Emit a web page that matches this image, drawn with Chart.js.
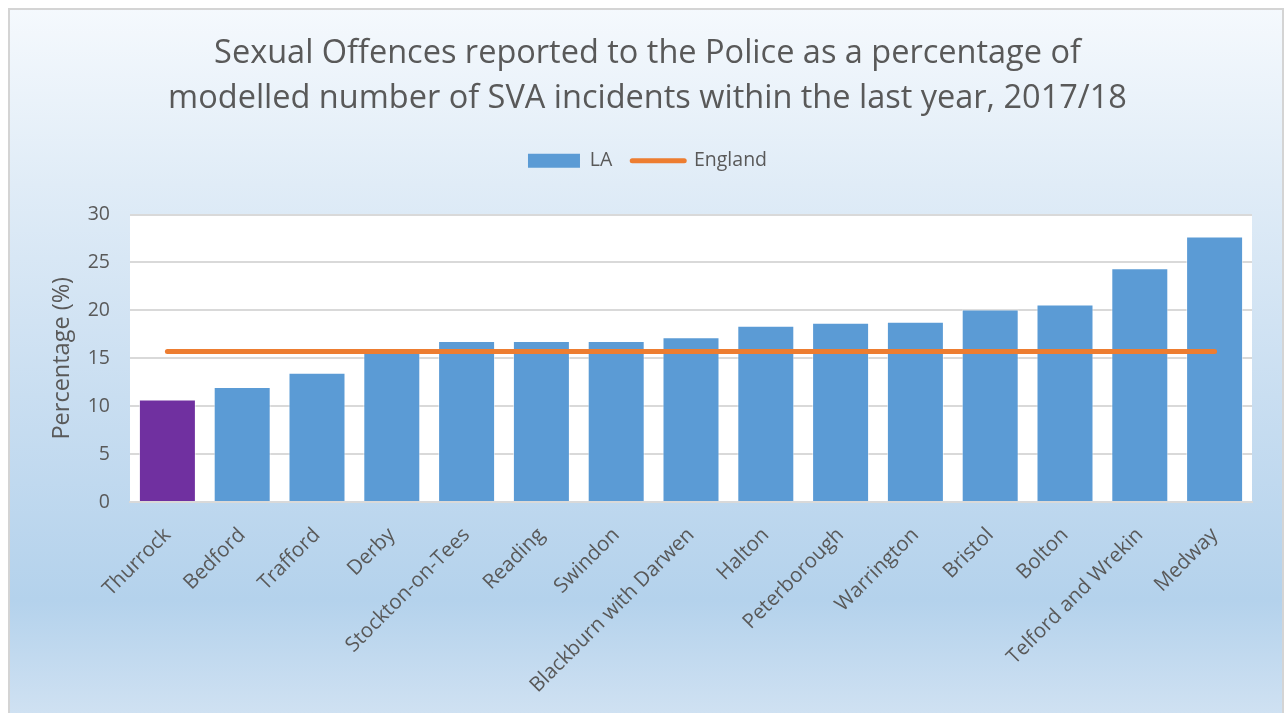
<!DOCTYPE html>
<html>
<head>
<meta charset="utf-8">
<title>Sexual Offences reported to the Police, 2017/18</title>
<script src="https://cdn.jsdelivr.net/npm/chart.js@4.4.1/dist/chart.umd.min.js"></script>
<style>
  html, body { margin: 0; padding: 0; background: #ffffff; }
  #wrap { position: relative; width: 1285px; height: 713px; }
  canvas { display: block; }
</style>
</head>
<body>
<div id="wrap"><canvas id="chart" width="1285" height="713"></canvas></div>
<script>
// Local authorities, sorted by rate
const areas = [
  'Thurrock', 'Bedford', 'Trafford', 'Derby', 'Stockton-on-Tees', 'Reading',
  'Swindon', 'Blackburn with Darwen', 'Halton', 'Peterborough', 'Warrington',
  'Bristol', 'Bolton', 'Telford and Wrekin', 'Medway'
];
// Offences reported as % of modelled SVA incidents
const laValues = [10.7, 12.0, 13.5, 15.6, 16.8, 16.8, 16.8, 17.2, 18.4, 18.7, 18.8, 20.1, 20.6, 24.4, 27.7];
// England average
const englandValue = 15.7;
const englandValues = areas.map(() => englandValue);
// Y axis ticks
const yTicks = [0, 5, 10, 15, 20, 25, 30];

const titleLines = [
  'Sexual Offences reported to the Police as a percentage of',
  'modelled number of SVA incidents within the last year, 2017/18'
];
const highlightArea = 'Thurrock';

const BLUE = '#5b9bd5';
const PURPLE = '#7030a0';
const ORANGE = '#ed7d31';
const TEXT = '#595959';
const GRID = '#d9d9d9';
const FONT = '"Open Sans", Lato, "DejaVu Sans", sans-serif';

// Frame with the soft blue gradient plus the white plot area
const backdrop = {
  id: 'backdrop',
  beforeDraw(chart) {
    const { ctx, chartArea } = chart;
    const W = chart.width, H = chart.height;
    ctx.save();
    const g = ctx.createLinearGradient(0, 8, 0, H);
    g.addColorStop(0.00, '#f5f9fd');
    g.addColorStop(0.25, '#e0ecf7');
    g.addColorStop(0.55, '#c9def1');
    g.addColorStop(0.84, '#b4d2ec');
    g.addColorStop(1.00, '#cfe1f2');
    ctx.fillStyle = g;
    ctx.fillRect(9, 9, W - 9 - 3, H - 9);
    ctx.strokeStyle = '#d4d4d4';
    ctx.lineWidth = 2;
    ctx.beginPath();
    ctx.moveTo(9, H + 2);
    ctx.lineTo(9, 9);
    ctx.lineTo(W - 2, 9);
    ctx.lineTo(W - 2, H + 2);
    ctx.stroke();
    ctx.fillStyle = '#ffffff';
    ctx.fillRect(chartArea.left, chartArea.top, chartArea.right - chartArea.left, chartArea.bottom - chartArea.top);
    ctx.restore();
  }
};

new Chart(document.getElementById('chart'), {
  data: {
    labels: areas,
    datasets: [
      {
        type: 'bar',
        label: 'LA',
        data: laValues,
        backgroundColor: (c) => areas[c.dataIndex] === highlightArea ? PURPLE : BLUE,
        borderColor: 'rgba(255,255,255,0.55)',
        borderWidth: 1,
        barPercentage: 0.762,
        categoryPercentage: 1.0,
        order: 2
      },
      {
        type: 'line',
        label: 'England',
        data: englandValues,
        borderColor: ORANGE,
        backgroundColor: ORANGE,
        borderWidth: 5,
        borderCapStyle: 'round',
        pointRadius: 0,
        pointHoverRadius: 0,
        fill: false,
        order: 1
      }
    ]
  },
  options: {
    responsive: false,
    animation: false,
    devicePixelRatio: 1,
    layout: { padding: { top: 8, left: 10, right: 0, bottom: 0 } },
    plugins: {
      tooltip: { enabled: false },
      title: {
        display: true,
        text: titleLines,
        color: TEXT,
        font: { family: FONT, size: 32.5, weight: 'normal', lineHeight: 1.385 },
        padding: { top: 23, bottom: 10 }
      },
      legend: {
        display: true,
        position: 'top',
        labels: {
          color: TEXT,
          font: { family: FONT, size: 19.5 },
          usePointStyle: true,
          pointStyleWidth: 52,
          boxHeight: 14,
          padding: 20,
          sort: (a, b) => a.datasetIndex - b.datasetIndex,
          generateLabels(chart) {
            const items = Chart.defaults.plugins.legend.labels.generateLabels(chart);
            return items.map((it) => {
              if (it.datasetIndex === 0) {
                return Object.assign(it, { fillStyle: BLUE, strokeStyle: BLUE, lineWidth: 0, pointStyle: 'rect', fontColor: TEXT });
              }
              return Object.assign(it, { fillStyle: ORANGE, strokeStyle: ORANGE, lineWidth: 5, lineCap: 'round', pointStyle: 'line', fontColor: TEXT });
            });
          }
        }
      }
    },
    scales: {
      x: {
        type: 'category',
        position: 'bottom',
        offset: true,
        grid: { display: false, drawTicks: false },
        border: { display: true, color: GRID, width: 2 },
        ticks: {
          color: TEXT,
          font: { family: FONT, size: 20.5 },
          minRotation: 45,
          maxRotation: 45,
          autoSkip: false,
          padding: 21
        },
        afterFit(s) { s.height = 211; }
      },
      y: {
        type: 'linear',
        position: 'left',
        min: 0,
        max: 30,
        afterBuildTicks(s) { s.ticks = yTicks.map((v) => ({ value: v })); },
        grid: { color: GRID, lineWidth: 2, drawTicks: false },
        border: { display: false },
        ticks: {
          color: TEXT,
          font: { family: FONT, size: 19.5 },
          padding: 20
        },
        title: {
          display: true,
          text: 'Percentage (%)',
          color: TEXT,
          font: { family: FONT, size: 23.5 },
          padding: { top: 38, bottom: 0 }
        },
        afterFit(s) { s.width = 120; }
      },
      // spacer axes that keep the plot area clear of the frame and legend
      yRight: {
        type: 'linear',
        position: 'right',
        display: true,
        grid: { display: false, drawTicks: false },
        border: { display: false },
        ticks: { display: false },
        afterFit(s) { s.width = 33; }
      },
      xTop: {
        type: 'linear',
        position: 'top',
        display: true,
        grid: { display: false, drawTicks: false },
        border: { display: false },
        ticks: { display: false },
        afterFit(s) { s.height = 34; }
      }
    }
  },
  plugins: [backdrop]
});
</script>
</body>
</html>
